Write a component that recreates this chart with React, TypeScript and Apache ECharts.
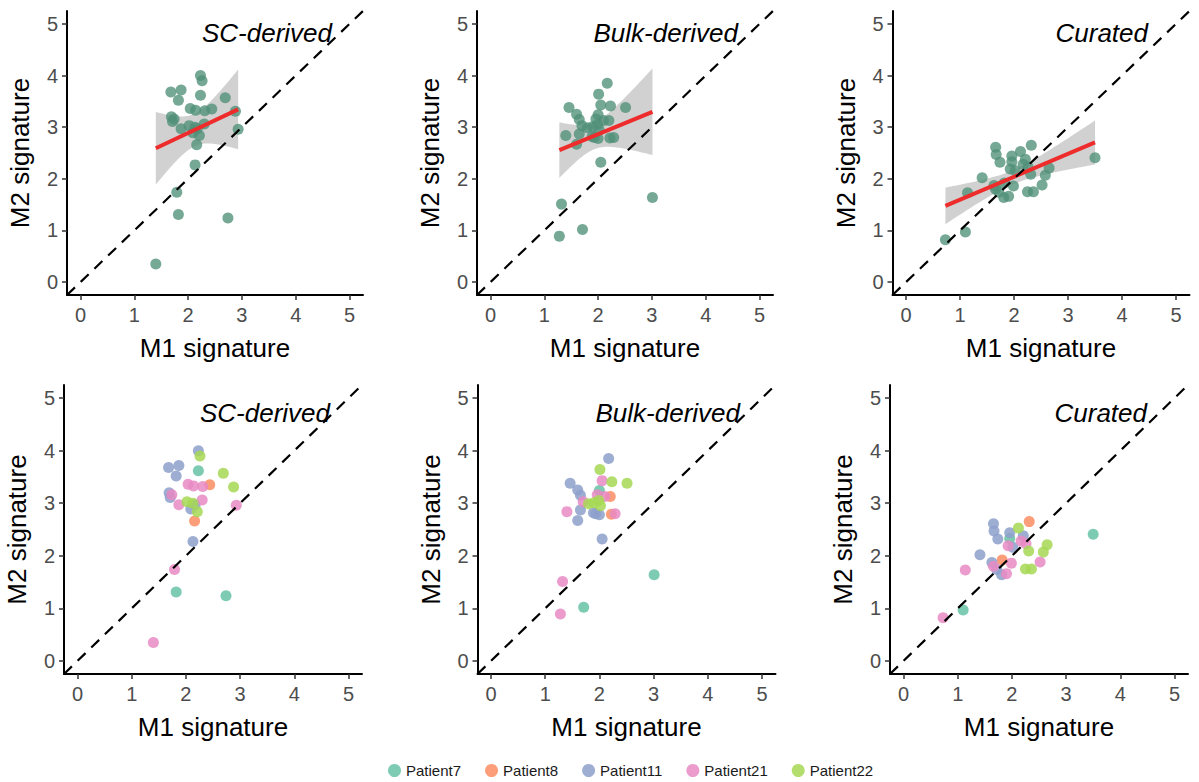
import { useEffect, useRef } from 'react';
import * as echarts from 'echarts';

// ---------- data ----------
const patients = ['Patient7', 'Patient8', 'Patient11', 'Patient21', 'Patient22'];
const patientColors = ['#66C2A5', '#FC8D62', '#8DA0CB', '#E78AC3', '#A6D854'];
const axisTicks = [0, 1, 2, 3, 4, 5];
const axisLimits = [-0.25, 5.25];
const methodNames = ['SC-derived', 'Bulk-derived', 'Curated'];

const scM1 = [2.23, 2.26, 1.68, 1.87, 1.82, 2.23, 2.69, 2.04, 2.14, 2.31, 2.44, 2.88, 1.69, 1.74, 1.71, 1.87, 2.02, 2.30, 2.13, 2.17, 2.09, 2.21, 2.16, 2.93, 2.13, 1.79, 1.82, 2.74, 1.40];
const scM2 = [4.00, 3.90, 3.68, 3.72, 3.52, 3.62, 3.57, 3.36, 3.33, 3.32, 3.35, 3.31, 3.20, 3.16, 3.11, 2.97, 3.03, 3.06, 3.00, 2.97, 2.89, 2.84, 2.66, 2.96, 2.27, 1.74, 1.31, 1.24, 0.35];
const scPatient = ['Patient11', 'Patient22', 'Patient11', 'Patient11', 'Patient11', 'Patient7', 'Patient22', 'Patient21', 'Patient21', 'Patient21', 'Patient8', 'Patient22', 'Patient11', 'Patient21', 'Patient11', 'Patient21', 'Patient22', 'Patient21', 'Patient22', 'Patient11', 'Patient11', 'Patient22', 'Patient8', 'Patient21', 'Patient11', 'Patient21', 'Patient7', 'Patient7', 'Patient21'];

const bulkM1 = [2.17, 2.01, 1.46, 2.05, 2.23, 2.51, 1.60, 2.00, 1.65, 1.96, 2.10, 2.20, 1.70, 1.80, 1.90, 1.99, 2.02, 1.65, 1.40, 1.89, 1.93, 2.00, 2.22, 2.29, 1.60, 2.05, 3.01, 1.32, 1.71, 1.28];
const bulkM2 = [3.85, 3.64, 3.38, 3.43, 3.41, 3.38, 3.25, 3.24, 3.15, 3.16, 3.13, 3.13, 3.03, 2.99, 3.01, 3.05, 2.95, 2.87, 2.84, 2.82, 2.80, 2.78, 2.79, 2.80, 2.67, 2.32, 1.64, 1.51, 1.02, 0.89];
const bulkPatient = ['Patient11', 'Patient22', 'Patient11', 'Patient21', 'Patient22', 'Patient22', 'Patient11', 'Patient7', 'Patient11', 'Patient21', 'Patient21', 'Patient8', 'Patient21', 'Patient22', 'Patient22', 'Patient22', 'Patient22', 'Patient11', 'Patient21', 'Patient11', 'Patient11', 'Patient11', 'Patient8', 'Patient21', 'Patient11', 'Patient11', 'Patient7', 'Patient21', 'Patient7', 'Patient21'];

const curM1 = [2.32, 1.66, 2.12, 1.67, 1.96, 1.96, 2.21, 1.74, 2.17, 2.26, 1.93, 2.02, 2.65, 2.31, 2.58, 1.41, 1.82, 1.63, 1.99, 2.52, 1.66, 1.72, 1.90, 1.81, 2.25, 2.36, 1.14, 3.50, 1.10, 0.73];
const curM2 = [2.65, 2.61, 2.53, 2.47, 2.44, 2.33, 2.38, 2.32, 2.28, 2.23, 2.19, 2.16, 2.21, 2.09, 2.07, 2.02, 1.92, 1.87, 1.86, 1.88, 1.80, 1.74, 1.66, 1.64, 1.75, 1.75, 1.73, 2.41, 0.97, 0.82];
const curPatient = ['Patient8', 'Patient11', 'Patient22', 'Patient11', 'Patient11', 'Patient7', 'Patient11', 'Patient11', 'Patient21', 'Patient21', 'Patient21', 'Patient11', 'Patient22', 'Patient22', 'Patient22', 'Patient11', 'Patient8', 'Patient11', 'Patient21', 'Patient21', 'Patient21', 'Patient11', 'Patient21', 'Patient11', 'Patient22', 'Patient22', 'Patient21', 'Patient7', 'Patient7', 'Patient21'];

// ---------- layout (pixels) ----------
const FONT = "'Liberation Sans', Arial, sans-serif";
const grids = [
  { left: 67, top: 11, width: 296, height: 284 },
  { left: 477, top: 11, width: 296, height: 284 },
  { left: 892.5, top: 11, width: 297, height: 284 },
  { left: 64, top: 385, width: 298, height: 289 },
  { left: 477.5, top: 385, width: 298, height: 289 },
  { left: 890, top: 385, width: 298, height: 289 },
];
const titlePos = [
  [332, 33], [738, 33], [1148, 33],
  [330, 413], [740, 413], [1147, 413],
];

type Fit = { line: number[][]; band: number[][] };

function fitLinear(xs: number[], ys: number[]): Fit {
  const n = xs.length;
  const mx = xs.reduce((a, b) => a + b, 0) / n;
  const my = ys.reduce((a, b) => a + b, 0) / n;
  let sxx = 0, sxy = 0;
  for (let i = 0; i < n; i++) {
    sxx += (xs[i] - mx) ** 2;
    sxy += (xs[i] - mx) * (ys[i] - my);
  }
  const b = sxy / sxx;
  const a = my - b * mx;
  let sse = 0;
  for (let i = 0; i < n; i++) sse += (ys[i] - a - b * xs[i]) ** 2;
  const s = Math.sqrt(sse / (n - 2));
  const t = 1.96 + 2.4 / (n - 2);
  const xmin = Math.min(...xs), xmax = Math.max(...xs);
  const band: number[][] = [];
  const steps = 80;
  for (let k = 0; k <= steps; k++) {
    const x = xmin + ((xmax - xmin) * k) / steps;
    const yh = a + b * x;
    const se = s * Math.sqrt(1 / n + (x - mx) ** 2 / sxx);
    band.push([x, yh - t * se, yh + t * se]);
  }
  return { line: [[xmin, a + b * xmin], [xmax, a + b * xmax]], band };
}

function buildOption() {
  const datasets = [
    { m1: scM1, m2: scM2, p: scPatient },
    { m1: bulkM1, m2: bulkM2, p: bulkPatient },
    { m1: curM1, m2: curM2, p: curPatient },
  ];

  const xAxis = grids.map((_, i) => ({
    type: 'value', gridIndex: i, min: axisLimits[0], max: axisLimits[1],
    name: 'M1 signature', nameLocation: 'middle', nameGap: 40,
    nameTextStyle: { fontSize: 26, color: '#000', fontFamily: FONT },
    axisLine: { show: true, onZero: false, lineStyle: { color: '#000', width: 2 } },
    axisTick: { show: true, customValues: axisTicks, length: 5, lineStyle: { color: '#333', width: 1.5 } },
    axisLabel: { customValues: axisTicks, fontSize: 20, color: '#4d4d4d', margin: 10, fontFamily: FONT },
    splitLine: { show: false },
  }));
  const yAxis = grids.map((_, i) => ({
    type: 'value', gridIndex: i, min: axisLimits[0], max: axisLimits[1],
    name: 'M2 signature', nameLocation: 'middle', nameGap: 34,
    nameTextStyle: { fontSize: 26, color: '#000', fontFamily: FONT },
    axisLine: { show: true, onZero: false, lineStyle: { color: '#000', width: 2 } },
    axisTick: { show: true, customValues: axisTicks, length: 5, lineStyle: { color: '#333', width: 1.5 } },
    axisLabel: { customValues: axisTicks, fontSize: 20, color: '#4d4d4d', margin: 9, fontFamily: FONT },
    splitLine: { show: false },
  }));

  const series: any[] = [];
  const diag = [[axisLimits[0], axisLimits[0]], [axisLimits[1], axisLimits[1]]];

  datasets.forEach((d, k) => {
    // top row: single colour + regression
    const fit = fitLinear(d.m1, d.m2);
    const band = fit.band;
    series.push({
      type: 'custom', xAxisIndex: k, yAxisIndex: k, silent: true, z: 1,
      data: band,
      renderItem: (params: any, api: any) => {
        if (params.dataIndex !== 0) return null;
        const upper = band.map((p) => api.coord([p[0], p[2]]));
        const lower = band.slice().reverse().map((p) => api.coord([p[0], p[1]]));
        return {
          type: 'polygon',
          shape: { points: upper.concat(lower) },
          style: { fill: 'rgba(153,153,153,0.45)', stroke: 'none' },
        };
      },
    });
    series.push({
      type: 'scatter', xAxisIndex: k, yAxisIndex: k, z: 2, symbolSize: 11,
      data: d.m1.map((x, i) => [x, d.m2[i]]),
      itemStyle: { color: '#4f9079', opacity: 0.78 },
    });
    series.push({
      type: 'line', xAxisIndex: k, yAxisIndex: k, z: 3, symbol: 'none',
      data: fit.line, lineStyle: { color: '#EE2C2C', width: 4 },
    });
    series.push({
      type: 'line', xAxisIndex: k, yAxisIndex: k, z: 4, symbol: 'none',
      data: diag, lineStyle: { color: '#000', width: 2.2, type: [11, 8] },
    });

    // bottom row: colored by patient
    const gi = k + 3;
    patients.forEach((pName, pi) => {
      const pts: number[][] = [];
      d.m1.forEach((x, i) => { if (d.p[i] === pName) pts.push([x, d.m2[i]]); });
      series.push({
        type: 'scatter', name: pName, xAxisIndex: gi, yAxisIndex: gi, z: 2, symbolSize: 11,
        data: pts, itemStyle: { color: patientColors[pi], opacity: 0.85 },
      });
    });
    series.push({
      type: 'line', xAxisIndex: gi, yAxisIndex: gi, z: 4, symbol: 'none',
      data: diag, lineStyle: { color: '#000', width: 2.2, type: [11, 8] },
    });
  });

  const graphic = titlePos.map((p, i) => ({
    type: 'text', x: p[0], y: p[1], z: 10,
    style: {
      text: methodNames[i % 3],
      font: `italic 26px ${FONT}`,
      fontSize: 26, fontStyle: 'italic', fontFamily: FONT,
      fill: '#000',
      align: 'right', verticalAlign: 'middle',
      textAlign: 'right', textVerticalAlign: 'middle',
    },
  }));

  return {
    animation: false,
    backgroundColor: '#ffffff',
    textStyle: { fontFamily: FONT },
    grid: grids.map((g) => ({ ...g, containLabel: false })),
    xAxis, yAxis, series, graphic,
    legend: {
      data: patients.map((p) => ({ name: p, icon: 'circle' })),
      left: 388, top: 763, padding: 0, itemWidth: 13, itemHeight: 13, itemGap: 24,
      textStyle: { fontSize: 15, color: '#1a1a1a', fontFamily: FONT },
      selectedMode: false,
    },
  };
}

export default function App() {
  const ref = useRef<HTMLDivElement>(null);
  useEffect(() => {
    if (!ref.current) return;
    const chart = echarts.init(ref.current, null, { renderer: 'svg' });
    chart.setOption(buildOption() as any);
    return () => chart.dispose();
  }, []);
  return (
    <div
      ref={ref}
      style={{ position: 'fixed', left: 0, top: 0, width: 1199, height: 782, background: '#fff' }}
    />
  );
}
